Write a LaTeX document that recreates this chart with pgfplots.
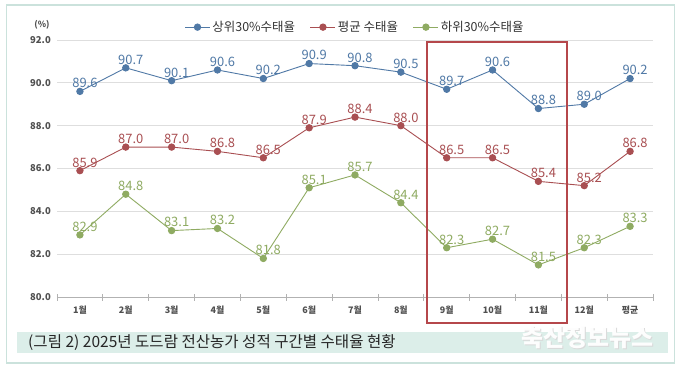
\documentclass[border=0pt]{standalone}
\usepackage{pgfplots}
\pgfplotsset{compat=1.18}
\usepackage{fontspec}
\setmainfont{Noto Sans CJK KR}
\definecolor{cblue}{HTML}{5079A6}
\definecolor{cred}{HTML}{A94F52}
\definecolor{cgreen}{HTML}{8FAB62}
\definecolor{cbox}{HTML}{B5474B}
\definecolor{cborder}{HTML}{CBE2DC}
\definecolor{cband}{HTML}{DCEEE9}
\definecolor{ctick}{HTML}{505050}
\begin{document}
\begin{tikzpicture}[x=1bp,y=1bp]
\fill[white] (0,0) rectangle (680,368);
\draw[cborder, line width=1.6bp] (6.5,363) rectangle (674.5,5);
\fill[cband] (17,15) rectangle (668,36);
\node[anchor=west, inner sep=0, font=\fontsize{15.6}{17}\selectfont, text=black!85] at (28,25.5) {(그림 2) 2025년 도드람 전산농가 성적 구간별 수태율 현황};
\node[inner sep=0, font=\fontsize{24}{26}\selectfont\bfseries, text=black!15] at (588.5,29.5) {축산정보뉴스};
\node[inner sep=0, font=\fontsize{24}{26}\selectfont\bfseries, text=white, opacity=0.95] at (587.5,30.5) {축산정보뉴스};
\node[inner sep=0, font=\fontsize{8.5}{10}\selectfont\bfseries, text=ctick] at (42,343) {(\%)};
\begin{axis}[
  at={(57bp,71bp)}, anchor=south west,
  scale only axis, width=596bp, height=257bp,
  xmin=-0.5, xmax=12.5, ymin=80, ymax=92,
  clip=false,
  axis lines*=left,
  x axis line style={draw=black!30, line width=0.8bp},
  y axis line style={draw=none},
  ytick={80,82,...,92},
  ymajorgrids, grid style={draw=black!13, line width=0.7bp},
  major y tick style={draw=none},
  yticklabel style={anchor=east, inner sep=0, xshift=-6bp, font=\fontsize{9.5}{11}\selectfont\bfseries, text=ctick},
  /pgf/number format/assume math mode=true,
  yticklabel={\pgfmathprintnumber[fixed,fixed zerofill,precision=1]{\tick}},
  xtick={0,...,12},
  xticklabels={1월,2월,3월,4월,5월,6월,7월,8월,9월,10월,11월,12월,평균},
  major x tick style={draw=none},
  minor xtick={-0.5,0.5,...,12.5},
  minor tick length=7bp,
  xtick align=center,
  minor x tick style={draw=black!30, line width=0.7bp},
  xticklabel style={anchor=center, inner sep=0, yshift=-11bp, font=\fontsize{9}{11}\selectfont\bfseries, text=ctick},
  legend style={draw=none, fill=none, at={(0.5,1.05)}, anchor=center, legend columns=3,
    font=\fontsize{12.5}{14}\selectfont, text=black!80,
    /tikz/every even column/.append style={column sep=13bp}},
  legend cell align=left,
  legend image code/.code={\draw[mark repeat=2,mark phase=2] plot coordinates {(0bp,0bp) (12.5bp,0bp) (25bp,0bp)};},
  every axis plot/.append style={line width=0.9bp, mark=*, mark size=3.2bp},
  nodes near coords={\pgfmathprintnumber[fixed,fixed zerofill,precision=1]{\pgfplotspointmeta}},
  point meta=y,
  every node near coord/.append style={anchor=south, inner sep=0, yshift=3bp, xshift=5bp, font=\fontsize{13}{14}\selectfont},
]
\addplot[cblue, mark options={fill=cblue, draw=cblue}, every node near coord/.append style={text=cblue}] coordinates {
(0,89.6) (1,90.7) (2,90.1) (3,90.6) (4,90.2) (5,90.9) (6,90.8) (7,90.5) (8,89.7) (9,90.6) (10,88.8) (11,89.0) (12,90.2)};
\addlegendentry{상위30\%수태율}
\addplot[cred, mark options={fill=cred, draw=cred}, every node near coord/.append style={text=cred}] coordinates {
(0,85.9) (1,87.0) (2,87.0) (3,86.8) (4,86.5) (5,87.9) (6,88.4) (7,88.0) (8,86.5) (9,86.5) (10,85.4) (11,85.2) (12,86.8)};
\addlegendentry{평균 수태율}
\addplot[cgreen, mark options={fill=cgreen, draw=cgreen}, every node near coord/.append style={text=cgreen}] coordinates {
(0,82.9) (1,84.8) (2,83.1) (3,83.2) (4,81.8) (5,85.1) (6,85.7) (7,84.4) (8,82.3) (9,82.7) (10,81.5) (11,82.3) (12,83.3)};
\addlegendentry{하위30\%수태율}
\draw[cbox, line width=1.8bp] (axis cs:7.57,91.91) rectangle (axis cs:10.62,78.79);
\end{axis}
\end{tikzpicture}
\end{document}
